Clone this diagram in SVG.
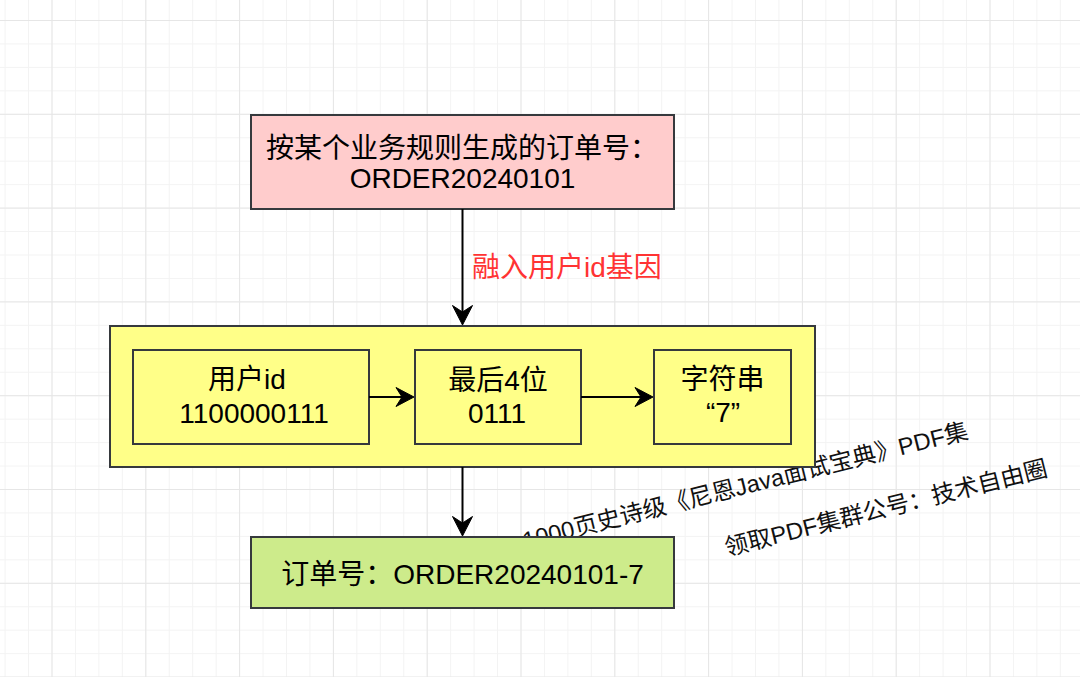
<svg xmlns="http://www.w3.org/2000/svg" width="1080" height="677" viewBox="0 0 1080 677">
<style>
  .box{stroke:#36393d;stroke-width:2}
  .t{font-family:"Liberation Sans","Noto Sans CJK SC",sans-serif;font-size:28px;fill:#000;text-anchor:middle}
  .lbl{font-family:"Liberation Sans","Noto Sans CJK SC",sans-serif;font-size:28px;fill:#ff3333}
  .wm{font-family:"Liberation Sans","Noto Sans CJK SC",sans-serif;font-size:23.7px;fill:#111}
  .ln{stroke:#000;stroke-width:2;fill:none}
  .hd{fill:#000;stroke:#000;stroke-width:1;stroke-linejoin:miter}
</style>
<defs>
  <pattern id="minor" patternUnits="userSpaceOnUse" x="4.6" y="-3.45" width="23.45" height="23.45">
    <path d="M0.5,0 V23.45 M0,0.5 H23.45" stroke="#f3f3f3" stroke-width="1" fill="none"/>
  </pattern>
  <pattern id="major" patternUnits="userSpaceOnUse" x="51.5" y="20" width="93.8" height="93.8">
    <path d="M0.5,0 V93.8 M0,0.5 H93.8" stroke="#e6e6e6" stroke-width="1" fill="none"/>
  </pattern>
</defs>
<rect width="1080" height="677" fill="#ffffff"/>
<rect width="1080" height="677" fill="url(#minor)"/>
<rect width="1080" height="677" fill="url(#major)"/>

<g id="watermark">
  <text class="wm" transform="translate(525,549) rotate(-14)">1000页史诗级《尼恩Java面试宝典》PDF集</text>
  <text class="wm" transform="translate(727,556) rotate(-14)">领取PDF集群公号：技术自由圈</text>
</g>

<g id="node-source">
  <rect class="box" x="251" y="115" width="423" height="94" fill="#ffcccc"/>
  <text class="t" x="462" y="158">按某个业务规则生成的订单号：</text>
  <text class="t" x="462.5" y="188">ORDER20240101</text>
</g>

<g id="node-container">
  <rect class="box" x="110" y="326" width="705" height="141" fill="#ffff88"/>
</g>

<g id="node-userid">
  <rect class="box" x="133" y="350" width="236" height="94" fill="#ffff88"/>
  <text class="t" x="247" y="389">用户id</text>
  <text class="t" x="254" y="423">1100000111</text>
</g>

<g id="node-last4">
  <rect class="box" x="415" y="350" width="166" height="94" fill="#ffff88"/>
  <text class="t" x="498" y="390">最后4位</text>
  <text class="t" x="497" y="423">0111</text>
</g>

<g id="node-string">
  <rect class="box" x="654" y="350" width="137" height="94" fill="#ffff88"/>
  <text class="t" x="722.5" y="389">字符串</text>
  <text class="t" x="723" y="422">“7”</text>
</g>

<g id="node-result">
  <rect class="box" x="251" y="537" width="423" height="71" fill="#cdeb8b"/>
  <text class="t" x="462.5" y="584">订单号：ORDER20240101-7</text>
</g>

<g id="connectors">
  <path class="ln" d="M462.5,209 V312"/>
  <path class="hd" d="M462.5,325 L452.5,305.5 L462.5,312 L472.5,305.5 Z"/>
  <text class="lbl" x="472" y="277">融入用户id基因</text>

  <path class="ln" d="M369,397 H402"/>
  <path class="hd" d="M414,397 L396,387.5 L402,397 L396,406.5 Z"/>

  <path class="ln" d="M581,397 H641"/>
  <path class="hd" d="M653,397 L635,387.5 L641,397 L635,406.5 Z"/>

  <path class="ln" d="M462.5,467 V523"/>
  <path class="hd" d="M462.5,536 L452.5,516.5 L462.5,523 L472.5,516.5 Z"/>
</g>
</svg>
